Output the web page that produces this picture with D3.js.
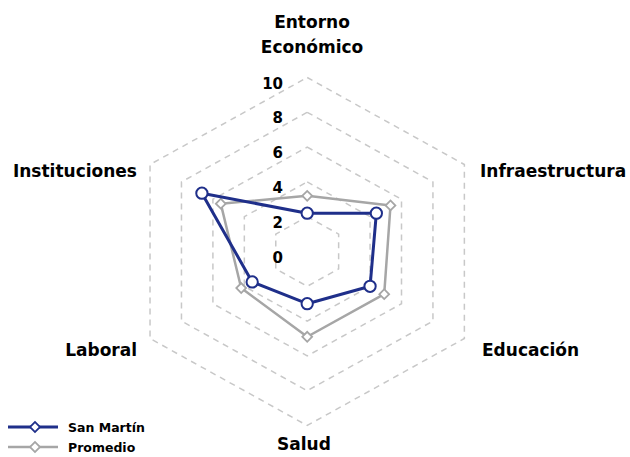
<!DOCTYPE html>
<html>
<head>
<meta charset="utf-8">
<script src="https://cdn.jsdelivr.net/npm/d3@7"></script>
<style>
  body { margin: 0; background: #fff; }
  text { font-family: "DejaVu Sans", sans-serif; font-weight: bold; fill: #000; }
</style>
</head>
<body>
<div class="radar"></div>
<script>
var w = 630;
var h = 457;
var categories = ["Entorno Económico", "Infraestructura", "Educación", "Salud", "Laboral", "Instituciones"];
var sanMartin = [2.2, 4.4, 4.0, 3.0, 3.5, 6.7];
var promedio = [3.2, 5.3, 4.9, 4.9, 4.2, 5.5];
var ticks = [0, 2, 4, 6, 8, 10];
var series = [
  {name: "San Martín", values: sanMartin, color: "#1f2f8a", width: 3, marker: "circle"},
  {name: "Promedio", values: promedio, color: "#a6a6a6", width: 2.5, marker: "diamond"}
];

var cx = 307.2, cy = 251.5, kx = 1.043;

var svg = d3.select(".radar")
            .append("svg")
            .attr("width", w)
            .attr("height", h);

// radial scale
var rScale = d3.scaleLinear()
    .domain([0, 10])
    .range([0, 174]);

var angle = d3.scaleLinear()
    .domain([0, categories.length])
    .range([0, 2 * Math.PI]);

function px(i, v) { return cx + rScale(v) * Math.sin(angle(i)) * kx; }
function py(i, v) { return cy - rScale(v) * Math.cos(angle(i)); }

// grid rings
svg.selectAll(".ring")
   .data(ticks.filter((t) => t > 0))
   .enter()
   .append("polygon")
   .attr("points", (t) => categories.map((c, i) => px(i, t) + "," + py(i, t)).join(" "))
   .attr("fill", "none")
   .attr("stroke", "#c8c8c8")
   .attr("stroke-width", 1.5)
   .attr("stroke-dasharray", "6,5");

// tick labels
svg.selectAll(".tickLabel")
   .data(ticks)
   .enter()
   .append("text")
   .text((d) => d)
   .attr("x", 283)
   .attr("y", (d) => py(0, d) + 11)
   .attr("text-anchor", "end")
   .style("font-size", "15px");

// series
var line = d3.line()
    .x((d, i) => px(i, d))
    .y((d, i) => py(i, d))
    .curve(d3.curveLinearClosed);

series.slice().reverse().forEach(function (s) {
  svg.append("path")
     .attr("d", line(s.values))
     .attr("fill", "none")
     .attr("stroke", s.color)
     .attr("stroke-width", s.width)
     .attr("stroke-linejoin", "round");

  var sym = d3.symbol()
      .type(s.marker == "circle" ? d3.symbolCircle : d3.symbolSquare)
      .size(s.marker == "circle" ? 100 : 48);

  svg.selectAll(".m" + s.marker)
     .data(s.values)
     .enter()
     .append("path")
     .attr("d", sym)
     .attr("transform", (d, i) => "translate(" + px(i, d) + "," + py(i, d) + ")" + (s.marker == "diamond" ? " rotate(45)" : ""))
     .attr("fill", "#fff")
     .attr("stroke", s.color)
     .attr("stroke-width", s.marker == "circle" ? 2 : 1.8);
});

// axis labels
var labelPos = [
  {x: 312, y: 28, anchor: "middle"},
  {x: 480, y: 177, anchor: "start"},
  {x: 482, y: 356, anchor: "start"},
  {x: 304, y: 450, anchor: "middle"},
  {x: 137, y: 356, anchor: "end"},
  {x: 137, y: 177, anchor: "end"}
];
categories.forEach(function (c, i) {
  var t = svg.append("text")
     .attr("x", labelPos[i].x)
     .attr("y", labelPos[i].y)
     .attr("text-anchor", labelPos[i].anchor)
     .style("font-size", "17px");
  if (i == 0) {
    t.append("tspan").attr("x", labelPos[i].x).text("Entorno");
    t.append("tspan").attr("x", labelPos[i].x).attr("dy", 25).text("Económico");
  } else {
    t.text(c);
  }
});

// legend
var legend = svg.selectAll(".legend")
   .data(series)
   .enter()
   .append("g")
   .attr("transform", (d, i) => "translate(8," + (427 + i * 20) + ")");

legend.append("line")
   .attr("x1", 0).attr("x2", 50)
   .attr("stroke", (d) => d.color)
   .attr("stroke-width", (d) => d.width);

legend.append("path")
   .attr("d", d3.symbol().type(d3.symbolSquare).size(50))
   .attr("transform", "translate(27,0) rotate(45)")
   .attr("fill", "#fff")
   .attr("stroke", (d) => d.color)
   .attr("stroke-width", 1.8);

legend.append("text")
   .text((d) => d.name)
   .attr("x", 60)
   .attr("y", 4.5)
   .style("font-size", "12.5px");
</script>
</body>
</html>
